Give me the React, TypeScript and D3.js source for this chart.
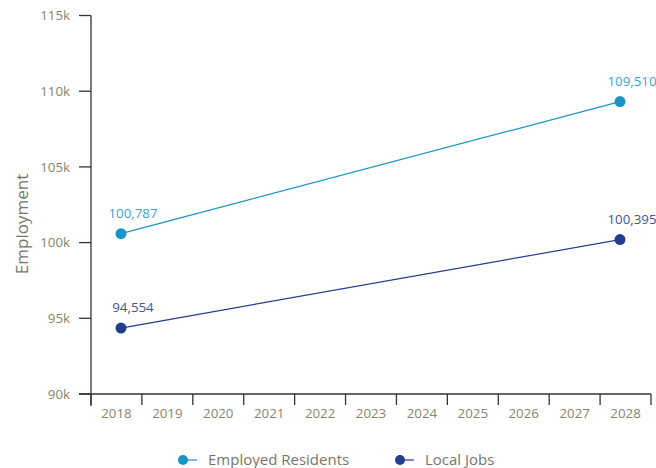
import React from "react";
import * as d3 from "d3";

const years = ["2018", "2019", "2020", "2021", "2022", "2023", "2024", "2025", "2026", "2027", "2028"];
const yTicks = [90000, 95000, 100000, 105000, 110000, 115000];
const residentsYears = ["2018", "2028"];
const residentsValues = [100787, 109510];
const jobsYears = ["2018", "2028"];
const jobsValues = [94554, 100395];
const seriesNames = ["Employed Residents", "Local Jobs"];

const W = 656;
const H = 468;
const FONT = "'Open Sans', Lato, sans-serif";
const C_RES = "#1a94c6";
const C_RES_LABEL = "#3ea2d2";
const C_JOBS = "#233d8f";
const C_JOBS_LABEL = "#3d56a0";
const AXIS = "#333333";
const TICK_TEXT = "#85856f";

export default function App() {
  const x = d3.scaleBand<string>().domain(years).range([91, 651]).paddingInner(0).paddingOuter(0);
  const xm = d3.scalePoint<string>().domain(years).range([121, 620]);
  const y = d3.scaleLinear().domain([90000, 115000]).range([394, 15.5]);
  const ym = d3.scaleLinear().domain([90000, 115000]).range([397, 18.5]);
  const fmt = d3.format(",");

  const line = d3
    .line<{ yr: string; v: number }>()
    .x((d) => xm(d.yr) as number)
    .y((d) => ym(d.v));

  const series = [
    { name: seriesNames[0], color: C_RES, labelColor: C_RES_LABEL, pts: residentsYears.map((yr, i) => ({ yr, v: residentsValues[i] })) },
    { name: seriesNames[1], color: C_JOBS, labelColor: C_JOBS_LABEL, pts: jobsYears.map((yr, i) => ({ yr, v: jobsValues[i] })) },
  ];

  const bandEdges = years.map((yr) => x(yr) as number).concat([x.range()[1]]);

  return (
    <svg width={W} height={H} style={{ position: "absolute", left: 0, top: 0, background: "#fff" }} fontFamily={FONT}>
      {/* y axis */}
      <line x1={91} x2={91} y1={y(115000)} y2={406} stroke={AXIS} strokeWidth={1.3} />
      {yTicks.map((t) => (
        <g key={t}>
          <line x1={79} x2={91} y1={y(t)} y2={y(t)} stroke={AXIS} strokeWidth={1.3} />
          <text x={70} y={y(t)} dy="0.35em" textAnchor="end" fontSize={13.3} fill={TICK_TEXT}>
            {t / 1000 + "k"}
          </text>
        </g>
      ))}
      <text
        transform={`translate(28,${224}) rotate(-90)`}
        textAnchor="middle"
        fontSize={17}
        fill="#76766a"
      >
        Employment
      </text>
      {/* x axis */}
      <line x1={79} x2={651} y1={394} y2={394} stroke={AXIS} strokeWidth={1.3} />
      {bandEdges.map((e, i) => (
        <line key={i} x1={e} x2={e} y1={394} y2={405} stroke={AXIS} strokeWidth={1.3} />
      ))}
      {years.map((yr) => (
        <text key={yr} x={(x(yr) as number) + x.bandwidth() / 2} y={418} textAnchor="middle" fontSize={13.3} fill={TICK_TEXT}>
          {yr}
        </text>
      ))}
      {/* series */}
      {series.map((s) => (
        <g key={s.name}>
          <path d={line(s.pts) || ""} fill="none" stroke={s.color} strokeWidth={1.2} />
          {s.pts.map((p) => (
            <g key={p.yr}>
              <circle cx={xm(p.yr) as number} cy={ym(p.v)} r={5.5} fill={s.color} />
              <text x={(xm(p.yr) as number) + 12} y={ym(p.v) - 16} textAnchor="middle" fontSize={13.3} fill={s.labelColor}>
                {fmt(p.v)}
              </text>
            </g>
          ))}
        </g>
      ))}
      {/* legend */}
      {series.map((s, i) => {
        const lx = i === 0 ? 183 : 400;
        return (
          <g key={s.name}>
            <line x1={lx} x2={lx + 14} y1={460} y2={460} stroke={s.color} strokeWidth={1.2} />
            <circle cx={lx} cy={460} r={5} fill={s.color} />
            <text x={lx + 25} y={460} dy="0.35em" fontSize={15} fill="#76766a">
              {s.name}
            </text>
          </g>
        );
      })}
    </svg>
  );
}
